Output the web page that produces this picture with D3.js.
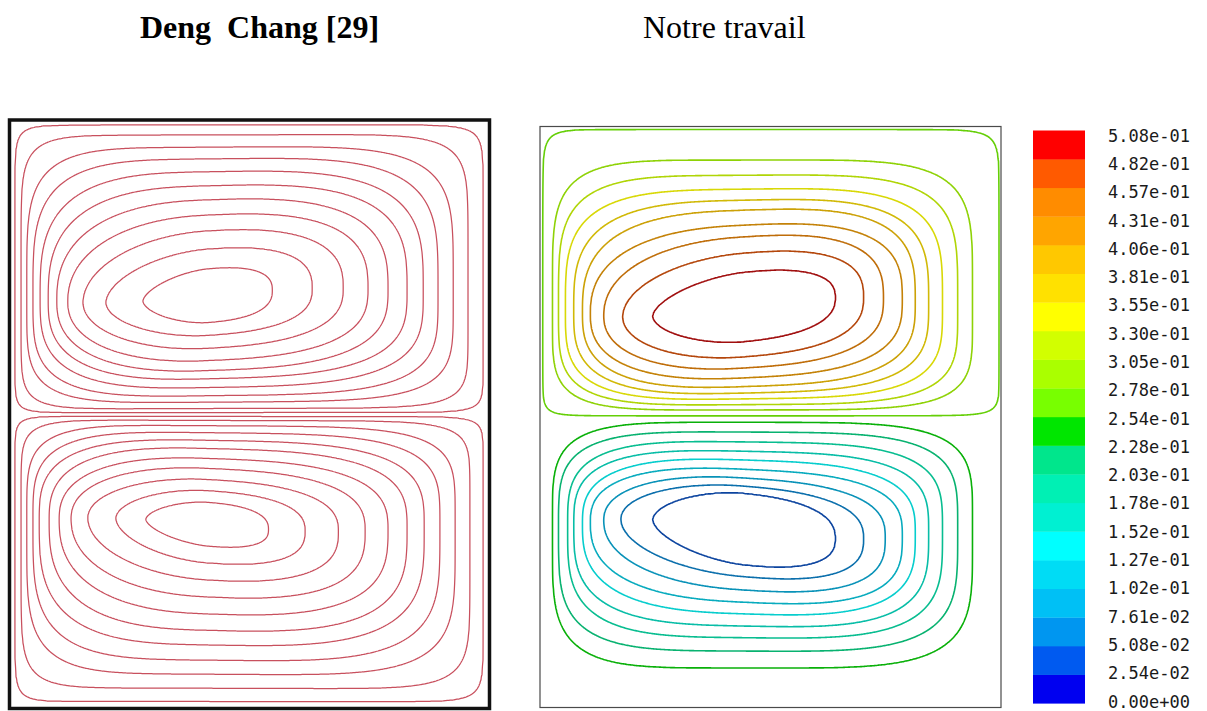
<!DOCTYPE html>
<html>
<head>
<meta charset="utf-8">
<script src="https://cdn.jsdelivr.net/npm/d3@7"></script>
<style>
  html, body { margin: 0; padding: 0; background: #fff; }
  svg { display: block; }
</style>
</head>
<body>
<svg id="fig" width="1207" height="711"></svg>
<script>
// ---------------------------------------------------------------------------
// Colour-bar tick labels, top to bottom (stream function levels)
const barLabels = ["5.08e-01", "4.82e-01", "4.57e-01", "4.31e-01", "4.06e-01",
  "3.81e-01", "3.55e-01", "3.30e-01", "3.05e-01", "2.78e-01", "2.54e-01",
  "2.28e-01", "2.03e-01", "1.78e-01", "1.52e-01", "1.27e-01", "1.02e-01",
  "7.61e-02", "5.08e-02", "2.54e-02", "0.00e+00"];
const barValues = barLabels.map(Number).reverse();          // ascending

// Colour of each band of the bar, bottom to top
const bandColors = ["#0000f0", "#005af0", "#0096f0", "#00c0f5", "#00dcf5",
  "#00ffff", "#00f0d2", "#00f0b4", "#00e68c", "#00e600",
  "#78ff00", "#aaff00", "#d2ff00", "#ffff00", "#ffe100",
  "#ffc800", "#ffa500", "#ff8c00", "#ff5a00", "#ff0000"];

// Present work: stream function on the walls and at the two cell centres
const wallPsi = 0.25;
const upperPeakPsi = 0.495;
const lowerPeakPsi = 0.015;

// Crossings of each contour with the cell centre lines, outer -> inner.
// Cavity units: x 0 = left wall .. 1 = right wall, y 0 = bottom .. 1 = top.
const upperLeftX   = [0.005, 0.026, 0.039, 0.054, 0.072, 0.091, 0.108, 0.137, 0.178, 0.243];
const upperRightX  = [0.995, 0.937, 0.905, 0.872, 0.842, 0.813, 0.785, 0.744, 0.701, 0.640];
const upperTopY    = [0.996, 0.943, 0.917, 0.893, 0.874, 0.857, 0.831, 0.811, 0.783, 0.750];
const upperBottomY = [0.503, 0.513, 0.522, 0.532, 0.542, 0.553, 0.568, 0.585, 0.604, 0.630];
const upperCentre  = [0.440, 0.690];
const upperRound   = [16, 5, 4.2, 3.7, 3.3, 3.0, 2.7, 2.5, 2.3, 2.1];   // squareness of each contour
const upperTilt    = 0.09;

const lowerLeftX   = [0.026, 0.039, 0.059, 0.072, 0.091, 0.108, 0.137, 0.174, 0.243];
const lowerRightX  = [0.937, 0.905, 0.872, 0.842, 0.813, 0.785, 0.748, 0.701, 0.640];
const lowerTopY    = [0.492, 0.475, 0.458, 0.442, 0.427, 0.411, 0.396, 0.382, 0.370];
const lowerBottomY = [0.069, 0.098, 0.121, 0.141, 0.162, 0.182, 0.203, 0.226, 0.246];
const lowerCentre  = [0.440, 0.308];
const lowerRound   = [4.5, 4.0, 3.6, 3.3, 3.0, 2.8, 2.5, 2.3, 2.1];
const lowerTilt    = -0.09;

// Deng & Chang [29]: normalised streamline levels (outer -> inner) and crossings
const refLevels = [0.083, 0.167, 0.250, 0.333, 0.417, 0.500, 0.583, 0.667, 0.750, 0.833, 0.917];
const refUpperLeftX   = [0.006, 0.019, 0.031, 0.044, 0.059, 0.076, 0.094, 0.117, 0.149, 0.197, 0.275];
const refUpperRightX  = [0.990, 0.958, 0.927, 0.895, 0.864, 0.830, 0.790, 0.748, 0.696, 0.631, 0.547];
const refUpperTopY    = [0.995, 0.978, 0.957, 0.937, 0.915, 0.891, 0.867, 0.841, 0.814, 0.783, 0.749];
const refUpperBottomY = [0.503, 0.510, 0.521, 0.532, 0.546, 0.561, 0.575, 0.592, 0.613, 0.635, 0.657];
const refUpperCentre  = [0.411, 0.703];
const refUpperTilt    = 0.08;

const refLowerLeftX   = [0.006, 0.019, 0.031, 0.044, 0.057, 0.078, 0.099, 0.124, 0.159, 0.218, 0.281];
const refLowerRightX  = [0.990, 0.962, 0.931, 0.899, 0.866, 0.830, 0.790, 0.742, 0.686, 0.616, 0.539];
const refLowerTopY    = [0.497, 0.490, 0.481, 0.469, 0.456, 0.442, 0.425, 0.408, 0.389, 0.370, 0.350];
const refLowerBottomY = [0.009, 0.032, 0.056, 0.080, 0.106, 0.131, 0.159, 0.188, 0.217, 0.246, 0.275];
const refLowerCentre  = [0.411, 0.312];
const refLowerTilt    = -0.08;
const refRound        = [16, 8, 4.8, 3.9, 3.3, 3.0, 2.7, 2.5, 2.3, 2.2, 2.1];

// ---------------------------------------------------------------------------
const svg = d3.select("#fig");

// One recirculation cell as a 0..1 field: every level is a rounded ring
// through its four crossings; the field is interpolated between rings
// (wall = 0, centre = 1). Inner rings lean by `tilt` and are egg-shaped.
function cellField(levels, cell) {
  const [cx, cy] = cell.centre;
  const rings = levels.map((n, k) => {
    const w = n * n;
    return {
      l: cx - cell.leftX[k], r: cell.rightX[k] - cx,
      b: cy - cell.bottomY[k], t: cell.topY[k] - cy,
      eL: cell.round[k] * (1 - cell.egg * w), eR: cell.round[k] * (1 + cell.egg * w),
      shear: cell.tilt * w
    };
  });
  const wl = cx, wr = 1 - cx, wb = cy - cell.y0, wt = cell.y1 - cy;
  const ringH = (g, dx, dy) => {
    const yy = dy - g.shear * dx;
    const e = dx < 0 ? g.eL : g.eR;
    const u = Math.abs(dx) / (dx < 0 ? g.l : g.r);
    const v = Math.abs(yy) / (yy < 0 ? g.b : g.t);
    return Math.pow(Math.pow(u, e) + Math.pow(v, e), 1 / e);
  };
  return (x, y) => {
    if (y < cell.y0 || y > cell.y1) return 0;
    const dx = x - cx, dy = y - cy;
    let hPrev = Math.max(Math.abs(dx) / (dx < 0 ? wl : wr), Math.abs(dy) / (dy < 0 ? wb : wt));
    if (hPrev >= 1) return 0;
    let nPrev = 0;
    for (let k = 0; k < rings.length; k++) {
      const h = ringH(rings[k], dx, dy);
      if (h > 1) return nPrev + (levels[k] - nPrev) * (1 - hPrev) / (h - hPrev);
      hPrev = h; nPrev = levels[k];
    }
    return nPrev + (1 - nPrev) * (1 - hPrev * hPrev);
  };
}

function sample(fn, nx, ny) {
  const v = new Float64Array(nx * ny);
  for (let j = 0; j < ny; j++) {
    const y = 1 - j / (ny - 1);
    for (let i = 0; i < nx; i++) v[j * nx + i] = fn(i / (nx - 1), y);
  }
  return v;
}

function contourPaths(g, values, nx, ny, thresholds, sx, sy) {
  const proj = d3.geoTransform({
    point(x, y) { this.stream.point(sx(x / (nx - 1)), sy(1 - y / (ny - 1))); }
  });
  const path = d3.geoPath(proj);
  const sets = d3.contours().size([nx, ny]).thresholds(thresholds)(values);
  return g.selectAll(null).data(sets).join("path")
    .attr("d", path).attr("fill", "none");
}

// ---------------------------------------------------------------------------
// Titles
const titleFont = "'Liberation Serif', 'Times New Roman', serif";
svg.append("text").attr("x", 140).attr("y", 38)
  .attr("font-family", titleFont).attr("font-size", 32).attr("font-weight", "bold")
  .style("white-space", "pre").attr("fill", "#000")
  .text("Deng  Chang [29]");
svg.append("text").attr("x", 643).attr("y", 38)
  .attr("font-family", titleFont).attr("font-size", 32)
  .attr("fill", "#000").text("Notre travail");

// ---------------------------------------------------------------------------
// Left panel: Deng & Chang streamlines
{
  const sx = d3.scaleLinear().domain([0, 1]).range([11.5, 487.5]);
  const sy = d3.scaleLinear().domain([0, 1]).range([706.5, 121.5]);
  const up = cellField(refLevels, { leftX: refUpperLeftX, rightX: refUpperRightX,
    topY: refUpperTopY, bottomY: refUpperBottomY, centre: refUpperCentre,
    round: refRound, tilt: refUpperTilt, egg: 0.25, y0: 0.5, y1: 1 });
  const lo = cellField(refLevels, { leftX: refLowerLeftX, rightX: refLowerRightX,
    topY: refLowerTopY, bottomY: refLowerBottomY, centre: refLowerCentre,
    round: refRound, tilt: refLowerTilt, egg: 0.25, y0: 0, y1: 0.5 });
  const nx = 477, ny = 586;
  const g = svg.append("g");
  contourPaths(g, sample((x, y) => y >= 0.5 ? up(x, y) : 0, nx, ny), nx, ny, refLevels, sx, sy)
    .attr("stroke", "#c8505e").attr("stroke-width", 1.25);
  contourPaths(g, sample((x, y) => y < 0.5 ? lo(x, y) : 0, nx, ny), nx, ny, refLevels, sx, sy)
    .attr("stroke", "#c8505e").attr("stroke-width", 1.25);
  svg.append("rect").attr("x", 9.5).attr("y", 120).attr("width", 480).attr("height", 588.5)
    .attr("fill", "none").attr("stroke", "#111").attr("stroke-width", 3.5);
}

// ---------------------------------------------------------------------------
// Right panel: computed stream function, coloured contour lines.
// Lines take the colour of their band, darkened more for the dim hues.
const lineColor = k => {
  const c = d3.rgb(bandColors[Math.min(k, 19)]);
  const lum = (0.2126 * c.r + 0.7152 * c.g + 0.0722 * c.b) / 255;
  return d3.interpolateRgb(c, "#202020")(0.15 + 0.35 * (1 - lum));
};
{
  const sx = d3.scaleLinear().domain([0, 1]).range([540, 1001]);
  const sy = d3.scaleLinear().domain([0, 1]).range([707.5, 126.5]);
  const upperLevels = barValues.slice(10, 20);              // 0.254 .. 0.482
  const lowerLevels = barValues.slice(1, 10).reverse();     // 0.228 .. 0.0254
  const upNorm = upperLevels.map(v => (v - wallPsi) / (upperPeakPsi - wallPsi));
  const loNorm = lowerLevels.map(v => (wallPsi - v) / (wallPsi - lowerPeakPsi));
  const up = cellField(upNorm, { leftX: upperLeftX, rightX: upperRightX,
    topY: upperTopY, bottomY: upperBottomY, centre: upperCentre,
    round: upperRound, tilt: upperTilt, egg: 0.2, y0: 0.5, y1: 1 });
  const lo = cellField(loNorm, { leftX: lowerLeftX, rightX: lowerRightX,
    topY: lowerTopY, bottomY: lowerBottomY, centre: lowerCentre,
    round: lowerRound, tilt: lowerTilt, egg: 0.2, y0: 0, y1: 0.5 });
  const psi = (x, y) => y >= 0.5
    ? wallPsi + (upperPeakPsi - wallPsi) * up(x, y)
    : wallPsi - (wallPsi - lowerPeakPsi) * lo(x, y);
  const nx = 462, ny = 582;
  const field = sample(psi, nx, ny);
  const neg = field.map(v => -v);
  const g = svg.append("g");
  contourPaths(g, field, nx, ny, upperLevels, sx, sy)
    .attr("stroke", d => lineColor(barValues.indexOf(d.value)))
    .attr("stroke-width", 1.6);
  contourPaths(g, neg, nx, ny, lowerLevels.map(v => -v), sx, sy)
    .attr("stroke", d => lineColor(barValues.indexOf(-d.value)))
    .attr("stroke-width", 1.6);
  svg.append("rect").attr("x", 540).attr("y", 126.5).attr("width", 461).attr("height", 581)
    .attr("fill", "none").attr("stroke", "#4a4a4a").attr("stroke-width", 1.2);
}

// ---------------------------------------------------------------------------
// Colour bar
{
  const by = d3.scaleLinear().domain([0, 20]).range([703.3, 130.5]);
  const bar = svg.append("g");
  bar.selectAll("rect").data(bandColors).join("rect")
    .attr("x", 1033).attr("width", 52)
    .attr("y", (c, k) => by(k + 1)).attr("height", (c, k) => by(k) - by(k + 1) + 0.3)
    .attr("fill", c => c);
  const ly = d3.scaleLinear().domain([0, 20]).range([135.7, 701.5]);
  bar.selectAll("text").data(barLabels).join("text")
    .attr("x", 1108).attr("y", (d, i) => ly(i))
    .attr("dominant-baseline", "central")
    .attr("font-family", "'DejaVu Sans Mono', monospace").attr("font-size", 17)
    .attr("fill", "#1a1a1a").text(d => d);
}
</script>
</body>
</html>
